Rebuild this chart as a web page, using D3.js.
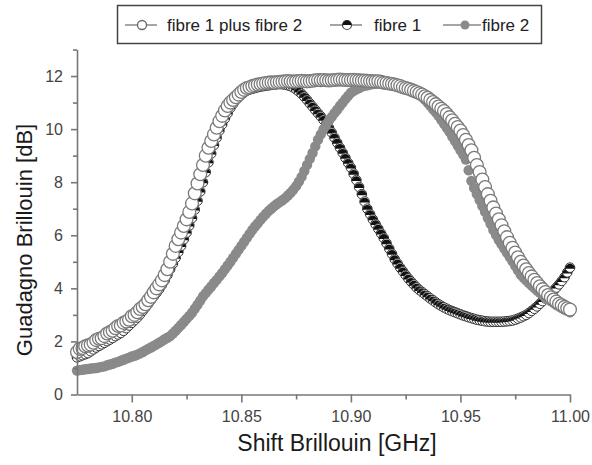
<!DOCTYPE html>
<html>
<head>
<meta charset="utf-8">
<script src="https://cdn.jsdelivr.net/npm/d3@7"></script>
<style>
  body { margin: 0; background: #fff; }
  text { font-family: "Liberation Sans", Arial, sans-serif; }
</style>
</head>
<body>
<div class="chart"></div>
<script>
// Brillouin shift sweep [GHz]
var shift = [
  10.775, 10.77625, 10.7775, 10.77875,
  10.78, 10.78125, 10.7825, 10.78375, 10.785, 10.78625, 10.7875, 10.78875,
  10.79, 10.79125, 10.7925, 10.79375, 10.795, 10.79625, 10.7975, 10.79875,
  10.80, 10.80125, 10.8025, 10.80375, 10.805, 10.80625, 10.8075, 10.80875,
  10.81, 10.81125, 10.8125, 10.81375, 10.815, 10.81625, 10.8175, 10.81875,
  10.82, 10.82125, 10.8225, 10.82375, 10.825, 10.82625, 10.8275, 10.82875,
  10.83, 10.83125, 10.8325, 10.83375, 10.835, 10.83625, 10.8375, 10.83875,
  10.84, 10.84125, 10.8425, 10.84375, 10.845, 10.84625, 10.8475, 10.84875,
  10.85, 10.85125, 10.8525, 10.85375, 10.855, 10.85625, 10.8575, 10.85875,
  10.86, 10.86125, 10.8625, 10.86375, 10.865, 10.86625, 10.8675, 10.86875,
  10.87, 10.87125, 10.8725, 10.87375, 10.875, 10.87625, 10.8775, 10.87875,
  10.88, 10.88125, 10.8825, 10.88375, 10.885, 10.88625, 10.8875, 10.88875,
  10.89, 10.89125, 10.8925, 10.89375, 10.895, 10.89625, 10.8975, 10.89875,
  10.90, 10.90125, 10.9025, 10.90375, 10.905, 10.90625, 10.9075, 10.90875,
  10.91, 10.91125, 10.9125, 10.91375, 10.915, 10.91625, 10.9175, 10.91875,
  10.92, 10.92125, 10.9225, 10.92375, 10.925, 10.92625, 10.9275, 10.92875,
  10.93, 10.93125, 10.9325, 10.93375, 10.935, 10.93625, 10.9375, 10.93875,
  10.94, 10.94125, 10.9425, 10.94375, 10.945, 10.94625, 10.9475, 10.94875,
  10.95, 10.95125, 10.9525, 10.95375, 10.955, 10.95625, 10.9575, 10.95875,
  10.96, 10.96125, 10.9625, 10.96375, 10.965, 10.96625, 10.9675, 10.96875,
  10.97, 10.97125, 10.9725, 10.97375, 10.975, 10.97625, 10.9775, 10.97875,
  10.98, 10.98125, 10.9825, 10.98375, 10.985, 10.98625, 10.9875, 10.98875,
  10.99, 10.99125, 10.9925, 10.99375, 10.995, 10.99625, 10.9975, 10.99875,
  11.00
];

// gain [dB] - fibre 1 plus fibre 2 (open circles)
var gainBoth = [
  1.6, 1.72, 1.75, 1.82, 1.85, 1.88, 1.95, 2.05, 2.1, 2.12,
  2.2, 2.3, 2.35, 2.4, 2.5, 2.58, 2.6, 2.7, 2.75, 2.82,
  2.95, 3.0, 3.1, 3.22, 3.3, 3.4, 3.55, 3.68, 3.85, 4.0,
  4.15, 4.3, 4.5, 4.72, 5.0, 5.3, 5.6, 5.85, 6.1, 6.35,
  6.6, 6.88, 7.2, 7.58, 7.95, 8.3, 8.65, 9.0, 9.3, 9.55,
  9.8, 10.05, 10.3, 10.5, 10.7, 10.87, 11.0, 11.1, 11.2, 11.3,
  11.4, 11.48, 11.55, 11.58, 11.62, 11.65, 11.68, 11.7, 11.72, 11.74,
  11.75, 11.76, 11.75, 11.77, 11.78, 11.79, 11.8, 11.81, 11.8, 11.79,
  11.8, 11.81, 11.82, 11.81, 11.8, 11.81, 11.82, 11.84, 11.85, 11.84,
  11.85, 11.84, 11.83, 11.84, 11.85, 11.86, 11.87, 11.86, 11.85, 11.85,
  11.85, 11.86, 11.85, 11.84, 11.83, 11.83, 11.82, 11.81, 11.8, 11.8,
  11.8, 11.78, 11.75, 11.74, 11.72, 11.7, 11.68, 11.65, 11.62, 11.58,
  11.55, 11.52, 11.48, 11.44, 11.4, 11.35, 11.3, 11.24, 11.18, 11.1,
  11.02, 10.94, 10.85, 10.77, 10.68, 10.57, 10.45, 10.33, 10.2, 10.08,
  9.95, 9.78, 9.6, 9.4, 9.2, 8.92, 8.65, 8.38, 8.1, 7.82,
  7.55, 7.3, 7.05, 6.82, 6.6, 6.38, 6.15, 5.93, 5.72, 5.53,
  5.35, 5.17, 5.0, 4.86, 4.72, 4.58, 4.45, 4.32, 4.2, 4.08,
  3.97, 3.86, 3.75, 3.66, 3.58, 3.5, 3.42, 3.36, 3.3, 3.25,
  3.2
];

// gain [dB] - fibre 1 (half filled circles)
var gainFibre1 = [
  1.4, 1.44, 1.48, 1.52, 1.56, 1.63, 1.7, 1.77, 1.83, 1.89,
  1.95, 2.01, 2.07, 2.13, 2.2, 2.26, 2.32, 2.4, 2.5, 2.6,
  2.7, 2.8, 2.9, 3.02, 3.15, 3.28, 3.42, 3.56, 3.7, 3.83,
  3.97, 4.13, 4.3, 4.5, 4.72, 4.93, 5.15, 5.37, 5.6, 5.85,
  6.1, 6.37, 6.65, 6.97, 7.3, 7.65, 8.0, 8.38, 8.75, 9.08,
  9.4, 9.68, 9.95, 10.18, 10.4, 10.6, 10.8, 10.95, 11.1, 11.2,
  11.3, 11.38, 11.45, 11.49, 11.52, 11.55, 11.58, 11.6, 11.62, 11.64,
  11.65, 11.67, 11.68, 11.69, 11.7, 11.69, 11.68, 11.65, 11.62, 11.57,
  11.5, 11.42, 11.33, 11.22, 11.1, 10.97, 10.85, 10.72, 10.6, 10.48,
  10.35, 10.2, 10.05, 9.87, 9.68, 9.49, 9.3, 9.11, 8.92, 8.73,
  8.55, 8.32, 8.08, 7.82, 7.55, 7.27, 7.0, 6.8, 6.6, 6.42,
  6.25, 6.07, 5.9, 5.7, 5.5, 5.3, 5.1, 4.94, 4.78, 4.64,
  4.5, 4.37, 4.25, 4.14, 4.03, 3.94, 3.86, 3.78, 3.7, 3.62,
  3.55, 3.47, 3.4, 3.34, 3.28, 3.23, 3.18, 3.14, 3.1, 3.06,
  3.02, 2.98, 2.95, 2.91, 2.88, 2.85, 2.82, 2.8, 2.78, 2.76,
  2.75, 2.74, 2.74, 2.74, 2.74, 2.74, 2.75, 2.76, 2.77, 2.79,
  2.82, 2.86, 2.9, 2.95, 3.0, 3.07, 3.15, 3.23, 3.32, 3.42,
  3.52, 3.62, 3.72, 3.82, 3.92, 4.03, 4.15, 4.28, 4.42, 4.6,
  4.78
];

// gain [dB] - fibre 2 (grey filled circles)
var gainFibre2 = [
  0.9, 0.92, 0.93, 0.95, 0.96, 0.98, 0.99, 1.0, 1.02, 1.04,
  1.06, 1.1, 1.13, 1.16, 1.2, 1.23, 1.27, 1.31, 1.35, 1.39,
  1.43, 1.46, 1.5, 1.55, 1.6, 1.66, 1.72, 1.77, 1.83, 1.89,
  1.95, 2.01, 2.08, 2.14, 2.2, 2.3, 2.4, 2.51, 2.62, 2.73,
  2.85, 2.96, 3.08, 3.23, 3.38, 3.54, 3.7, 3.82, 3.95, 4.07,
  4.2, 4.32, 4.45, 4.58, 4.72, 4.86, 5.0, 5.15, 5.3, 5.45,
  5.6, 5.75, 5.9, 6.05, 6.2, 6.33, 6.45, 6.58, 6.7, 6.81,
  6.92, 7.01, 7.1, 7.18, 7.25, 7.32, 7.4, 7.5, 7.6, 7.72,
  7.85, 8.02, 8.2, 8.42, 8.65, 8.88, 9.1, 9.35, 9.6, 9.8,
  10.0, 10.16, 10.32, 10.46, 10.6, 10.73, 10.87, 11.0, 11.13, 11.25,
  11.37, 11.44, 11.5, 11.55, 11.6, 11.63, 11.65, 11.68, 11.7, 11.71,
  11.72, 11.73, 11.73, 11.73, 11.72, 11.71, 11.7, 11.69, 11.68, 11.64,
  11.6, 11.56, 11.52, 11.46, 11.4, 11.31, 11.22, 11.11, 11.0, 10.88,
  10.75, 10.63, 10.5, 10.35, 10.2, 10.05, 9.9, 9.72, 9.55, 9.38,
  9.2, 9.04, 8.85, 8.45, 8.05, 7.78, 7.55, 7.33, 7.1, 6.88,
  6.65, 6.43, 6.2, 6.01, 5.82, 5.66, 5.5, 5.34, 5.18, 5.02,
  4.85, 4.68, 4.52, 4.41, 4.3, 4.2, 4.1, 4.01, 3.92, 3.83,
  3.75, 3.67, 3.6, 3.52, 3.45, 3.38, 3.32, 3.26, 3.2, 3.15,
  3.1
];

var xTicks = [10.80, 10.85, 10.90, 10.95, 11.00];
var xMinor = [10.825, 10.875, 10.925, 10.975];
var yTicks = [0, 2, 4, 6, 8, 10, 12];
var yMinor = [1, 3, 5, 7, 9, 11, 13];
var legendLabels = ["fibre 1 plus fibre 2", "fibre 1", "fibre 2"];

var width = 592, height = 465;

var svg = d3.select(".chart").append("svg")
    .attr("width", width)
    .attr("height", height)
    .style("background", "#fff");

var x = d3.scaleLinear()
    .domain([10.775, 11.0])
    .range([77, 570]);

var y = d3.scaleLinear()
    .domain([0, 13])
    .range([394.5, 49.5]);

var pts = function (vals) {
    return vals.map(function (v, i) { return [shift[i], v]; });
};

// data
const g = svg.append("g");

var r1 = 4.8;
var f1 = g.append("g").selectAll("g")
    .data(pts(gainFibre1))
    .enter().append("g")
    .attr("transform", d => `translate(${x(d[0])},${y(d[1])})`);
f1.append("circle")
    .attr("r", r1)
    .attr("fill", "#fff")
    .attr("stroke", "#333")
    .attr("stroke-width", 1);
f1.append("path")
    .attr("d", `M${-r1},1A${r1},${r1} 0 1,1 ${r1},1Z`)
    .attr("fill", "#111");

g.append("g").selectAll("circle")
    .data(pts(gainFibre2))
    .enter().append("circle")
    .attr("cx", d => x(d[0]))
    .attr("cy", d => y(d[1]))
    .attr("r", 5.2)
    .attr("fill", "#8a8a8a");

g.append("g").selectAll("circle")
    .data(pts(gainBoth))
    .enter().append("circle")
    .attr("cx", d => x(d[0]))
    .attr("cy", d => y(d[1]))
    .attr("r", 6.4)
    .attr("fill", "#fff")
    .attr("stroke", "#7a7a7a")
    .attr("stroke-width", 1.3);

// axes
var xAxis = svg.append("g")
    .attr("transform", "translate(0," + y(0) + ")")
    .call(d3.axisBottom(x).tickValues(xTicks).tickSize(8).tickSizeOuter(0)
        .tickFormat(d3.format(".2f")));
svg.append("g")
    .attr("transform", "translate(0," + y(0) + ")")
    .call(d3.axisBottom(x).tickValues(xMinor).tickSize(5).tickSizeOuter(0).tickFormat(""))
    .select(".domain").remove();

var yAxis = svg.append("g")
    .attr("transform", "translate(" + x(10.775) + ",0)")
    .call(d3.axisLeft(y).tickValues(yTicks).tickSize(6).tickSizeOuter(0));
svg.append("g")
    .attr("transform", "translate(" + x(10.775) + ",0)")
    .call(d3.axisLeft(y).tickValues(yMinor).tickSize(4).tickSizeOuter(0).tickFormat(""))
    .select(".domain").remove();

svg.selectAll(".domain, .tick line")
    .attr("stroke", "#777")
    .attr("stroke-width", 1.6);
svg.selectAll(".tick text")
    .attr("fill", "#444")
    .style("font-size", "16px")
    .style("font-family", "'Liberation Sans', Arial, sans-serif");
xAxis.selectAll(".tick text").attr("dy", "1.05em");
yAxis.selectAll(".tick text").attr("x", -14);

// axis titles
svg.append("text")
    .attr("x", 337)
    .attr("y", 451)
    .attr("text-anchor", "middle")
    .attr("fill", "#1a1a1a")
    .style("font-size", "23px")
    .text("Shift Brillouin [GHz]");

svg.append("text")
    .attr("transform", "translate(32,240) rotate(-90)")
    .attr("text-anchor", "middle")
    .attr("fill", "#1a1a1a")
    .style("font-size", "22px")
    .text("Guadagno Brillouin [dB]");

// legend
var lg = svg.append("g");
lg.append("rect")
    .attr("x", 117.5)
    .attr("y", 5.5)
    .attr("width", 424)
    .attr("height", 38)
    .attr("fill", "#fff")
    .attr("stroke", "#444")
    .attr("stroke-width", 1.5);

var legendItems = [
    { line: [125, 157], mark: 142, text: 167 },
    { line: [330, 362], mark: 347, text: 374 },
    { line: [443, 481], mark: 465, text: 482 }
];
var ly = 25;
legendItems.forEach(function (it, i) {
    lg.append("line")
        .attr("x1", it.line[0]).attr("x2", it.line[1])
        .attr("y1", ly).attr("y2", ly)
        .attr("stroke", "#888")
        .attr("stroke-width", 1.5);
    if (i === 0) {
        lg.append("circle").attr("cx", it.mark).attr("cy", ly).attr("r", 4.5)
            .attr("fill", "#fff").attr("stroke", "#666").attr("stroke-width", 1.3);
    } else if (i === 1) {
        lg.append("circle").attr("cx", it.mark).attr("cy", ly).attr("r", 4.5)
            .attr("fill", "#fff").attr("stroke", "#444").attr("stroke-width", 1.2);
        lg.append("path")
            .attr("transform", `translate(${it.mark},${ly})`)
            .attr("d", "M-4.5,0A4.5,4.5 0 0,1 4.5,0Z")
            .attr("fill", "#111");
    } else {
        lg.append("circle").attr("cx", it.mark).attr("cy", ly).attr("r", 4.5)
            .attr("fill", "#8a8a8a");
    }
    lg.append("text")
        .attr("x", it.text)
        .attr("y", ly + 6)
        .attr("fill", "#222")
        .style("font-size", "17px")
        .text(legendLabels[i]);
});
</script>
</body>
</html>
